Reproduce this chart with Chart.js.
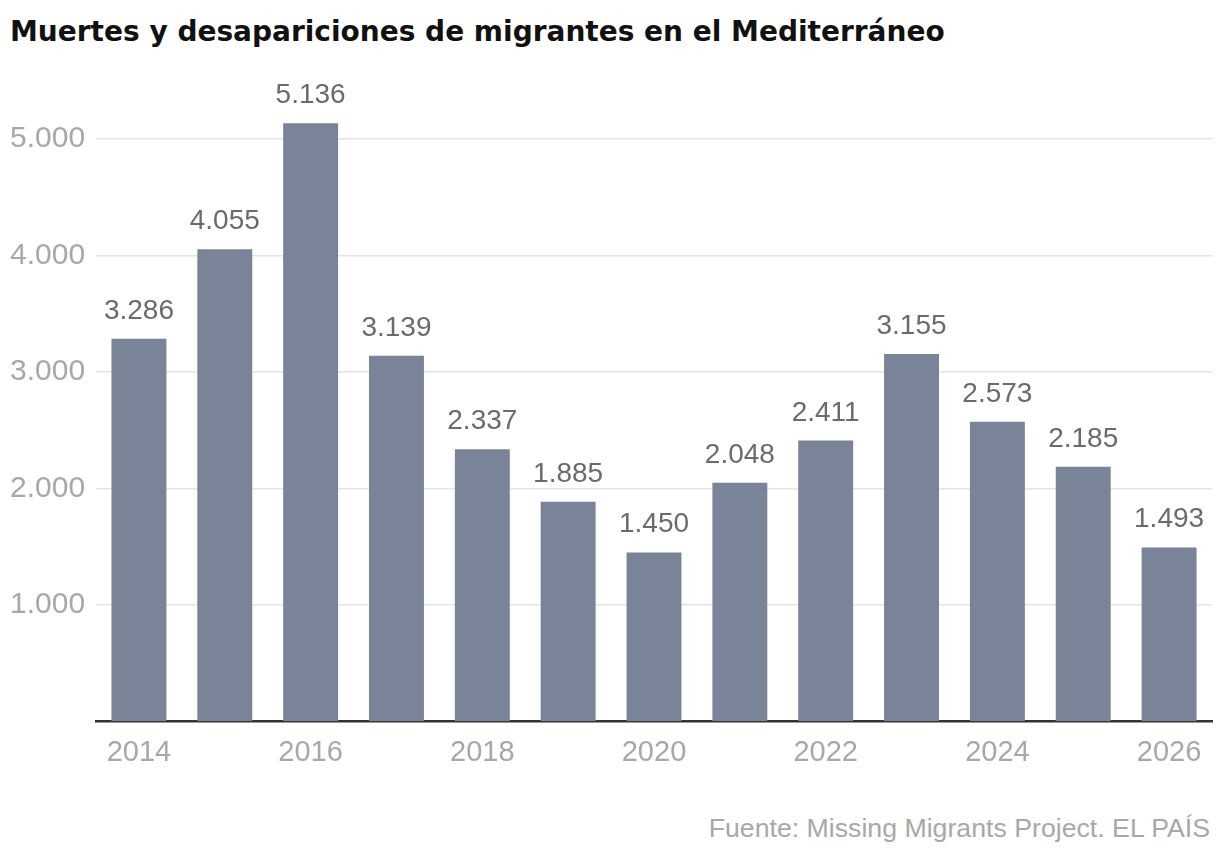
<!DOCTYPE html>
<html lang="es">
<head>
  <meta charset="UTF-8">
  <title>Muertes y desapariciones de migrantes en el Mediterráneo</title>
  <script src="https://cdn.jsdelivr.net/npm/chart.js"></script>
  <style>
    body { margin: 0; background: #fff; width: 1220px; height: 858px; position: relative; overflow: hidden; font-family: "Liberation Sans", Arial, sans-serif; }
    h1 { position: absolute; left: 10px; top: 14px; margin: 0; font-family: "DejaVu Sans", sans-serif; font-size: 28px; line-height: 36px; font-weight: bold; color: #111; }
    .wrap { position: absolute; left: 0; top: 53px; width: 1220px; height: 723px; }
    .source { position: absolute; right: 10px; top: 813px; font-size: 26.7px; line-height: 30px; color: #a8a8a8; }
  </style>
</head>
<body>
  <h1>Muertes y desapariciones de migrantes en el Mediterráneo</h1>
  <div class="wrap"><canvas id="chart"></canvas></div>
  <div class="source">Fuente: Missing Migrants Project. EL PAÍS</div>
  <script>
    const years = ['2014', '2015', '2016', '2017', '2018', '2019', '2020', '2021', '2022', '2023', '2024', '2025', '2026'];
    const deaths = [3286, 4055, 5136, 3139, 2337, 1885, 1450, 2048, 2411, 3155, 2573, 2185, 1493];
    const yTicks = [1000, 2000, 3000, 4000, 5000];

    // miles con punto, también para 4 cifras
    const fmt = v => String(v).replace(/\B(?=(\d{3})+(?!\d))/g, '.');

    const valueLabels = {
      id: 'valueLabels',
      afterDatasetsDraw(chart) {
        const ctx = chart.ctx;
        const meta = chart.getDatasetMeta(0);
        ctx.save();
        ctx.font = '28px "Liberation Sans", Arial, sans-serif';
        ctx.fillStyle = '#6b6b6b';
        ctx.textAlign = 'center';
        ctx.textBaseline = 'alphabetic';
        meta.data.forEach((bar, i) => {
          ctx.fillText(fmt(deaths[i]), bar.x, bar.y - 20);
        });
        ctx.restore();
      }
    };

    new Chart(document.getElementById('chart'), {
      type: 'bar',
      data: {
        labels: years,
        datasets: [{
          data: deaths,
          backgroundColor: '#7a8498',
          barPercentage: 0.64,
          categoryPercentage: 1
        }]
      },
      options: {
        responsive: true,
        maintainAspectRatio: false,
        animation: false,
        layout: { padding: { top: 14, left: 10, right: 8, bottom: 0 } },
        plugins: { legend: { display: false }, tooltip: { enabled: false } },
        scales: {
          x: {
            grid: { display: false },
            border: { color: '#333', width: 2.5 },
            ticks: {
              autoSkip: false,
              maxRotation: 0,
              padding: 6,
              color: '#a8a8a8',
              font: { size: 29, family: '"Liberation Sans", Arial, sans-serif' },
              callback: function (v, i) { return i % 2 === 0 ? years[i] : ''; }
            }
          },
          y: {
            min: 0,
            max: 5500,
            afterBuildTicks: s => { s.ticks = yTicks.map(v => ({ value: v })); },
            afterFit: s => { s.width = 86; },
            border: { display: false },
            grid: { color: '#e4e4e4', lineWidth: 1.5, drawTicks: false },
            ticks: {
              crossAlign: 'far',
              padding: 10,
              color: '#a8a8a8',
              font: { size: 30, family: '"Liberation Sans", Arial, sans-serif' },
              callback: v => fmt(v)
            }
          }
        }
      },
      plugins: [valueLabels]
    });
  </script>
</body>
</html>
